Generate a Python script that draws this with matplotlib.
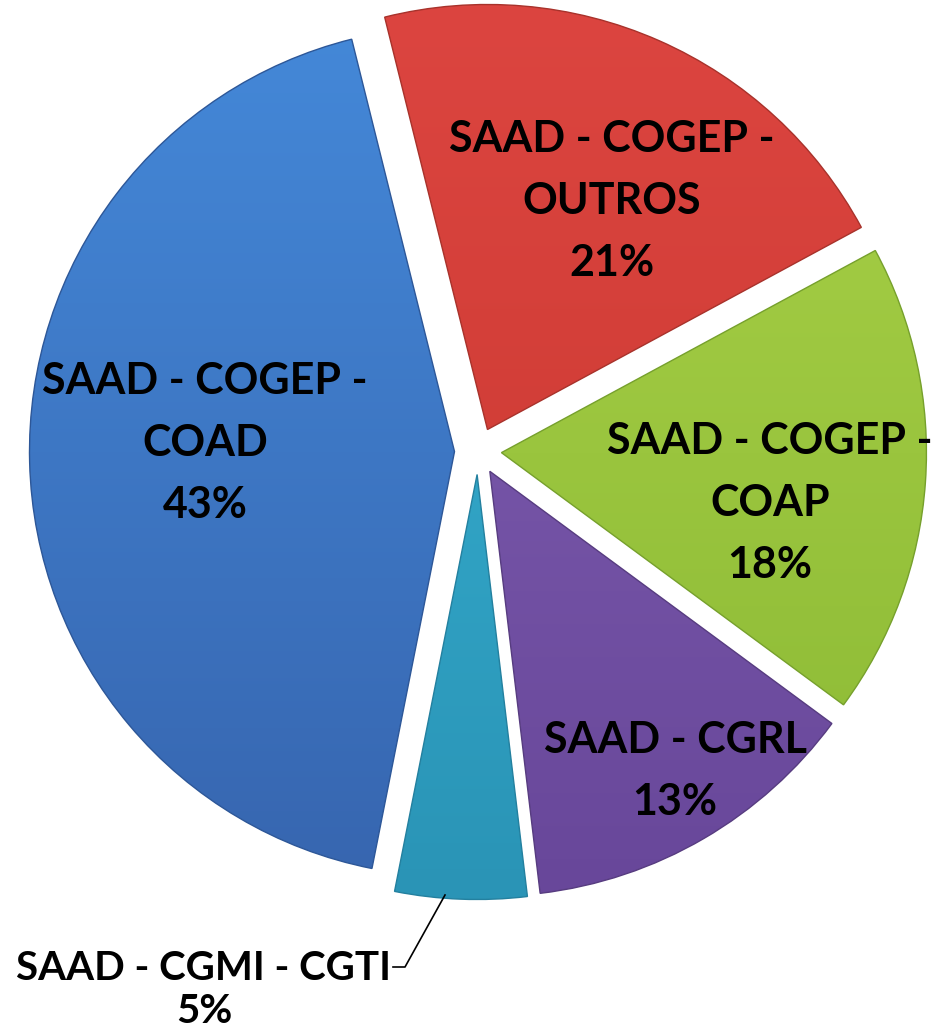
import matplotlib
matplotlib.use("Agg")
import matplotlib.pyplot as plt
import numpy as np

names = ["SAAD - COGEP -\nOUTROS", "SAAD - COGEP -\nCOAP", "SAAD - CGRL",
         "SAAD - CGMI - CGTI", "SAAD - COGEP -\nCOAD"]
shares = [21, 18, 13, 5, 43]

# gradient colours per slice: (top, bottom)
tops = ["#dc4540", "#a8d047", "#8160b2", "#38b3d4", "#4488d8"]
bottoms = ["#c8372f", "#8cba35", "#68479a", "#2a94b6", "#3766b0"]
edges = ["#a8322b", "#76a02c", "#573c80", "#23809f", "#2d5798"]

W, H = 935, 1031
fig = plt.figure(figsize=(W / 100, H / 100), dpi=100)
ax = fig.add_axes([0, 0, 1, 1])

cx, cy, R = 478, H - 451, 425
wedges, _ = ax.pie(shares, startangle=104, counterclock=False,
                   radius=R, center=(cx, cy), explode=[23.5] * 5,
                   wedgeprops=dict(linewidth=1.0))

for w, c1, c2, ec in zip(wedges, tops, bottoms, edges):
    w.set_facecolor("none")
    w.set_edgecolor(ec)
    w.set_zorder(3)
    x0, y0 = w.center
    grad = np.linspace(0, 1, 256).reshape(-1, 1)
    cmap = matplotlib.colors.LinearSegmentedColormap.from_list("g", [c1, c2])
    im = ax.imshow(grad, cmap=cmap, extent=(x0 - R, x0 + R, y0 - R, y0 + R),
                   aspect="auto", zorder=2, origin="upper")
    im.set_clip_path(w)

# label positions (pixel layout): x, y, fontsize, linespacing
label_pos = [(612, 201, 31, 1.66), (770, 503, 31, 1.66), (675, 771, 31, 1.66),
             (204, 990, 29, 1.22), (205, 443, 31, 1.66)]
for name, s, (px, py, fs, ls) in zip(names, shares, label_pos):
    ax.text(px, H - py, f"{name}\n{s}%", zorder=5,
            family=["Lato", "DejaVu Sans"], fontweight="bold", fontsize=fs,
            color="black", ha="center", va="center", linespacing=ls)

# leader line for the small slice
ax.plot([445, 405, 393], [H - 895, H - 967, H - 967], color="black",
        lw=1.2, zorder=5)

ax.set_xlim(0, W)
ax.set_ylim(0, H)
ax.set_aspect("equal", adjustable="box")
ax.axis("off")
fig.savefig("out.png", dpi=100, facecolor="white")
